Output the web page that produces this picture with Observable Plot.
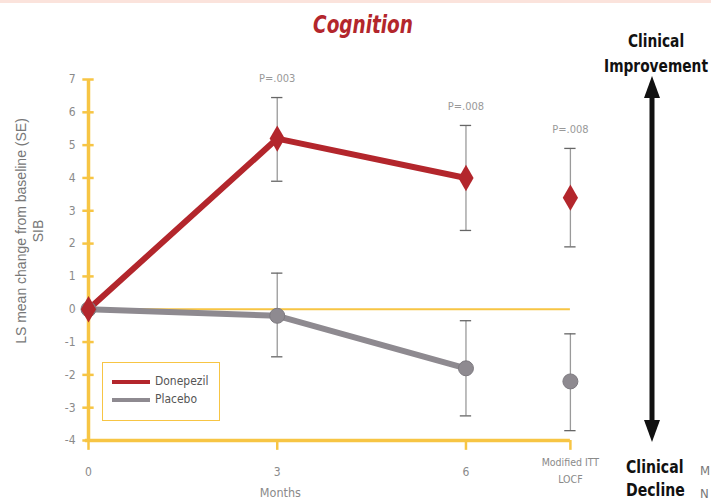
<!DOCTYPE html>
<html>
<head>
<meta charset="utf-8">
<script src="https://cdn.jsdelivr.net/npm/d3@7"></script>
<script src="https://cdn.jsdelivr.net/npm/@observablehq/plot@0.6"></script>
<style>
  body { margin: 0; background: #fff; }
  #wrap { position: relative; width: 711px; height: 500px; overflow: hidden; font-family: "Liberation Sans Narrow", "DejaVu Sans Condensed", "Roboto", sans-serif; }
  #wrap svg.plot { position: absolute; left: 0; top: 0; }
  .abs { position: absolute; white-space: nowrap; }
</style>
</head>
<body>
<div id="wrap"></div>
<script>
// ---- data ----
const timepoints = [0, 3, 6, 7.66];           // x positions (ITT placed after month 6)
const tickLabels = ["0", "3", "6", "Modified ITT\nLOCF"];
const donepezilMean = [0, 5.2, 4.0, 3.4];
const donepezilLow  = [null, 3.9, 2.4, 1.9];
const donepezilHigh = [null, 6.45, 5.6, 4.9];
const placeboMean = [0, -0.2, -1.8, -2.2];
const placeboLow  = [null, -1.45, -3.25, -3.7];
const placeboHigh = [null, 1.1, -0.35, -0.75];
const pLabels = [null, "P=.003", "P=.008", "P=.008"];
const yTicks = [-4, -3, -2, -1, 0, 1, 2, 3, 4, 5, 6, 7];

const RED = "#b3262c", GRAY = "#8e8a90", ORANGE = "#f7c544", TXT = "#8a8a8a";

const rows = [];
timepoints.forEach((t, i) => {
  rows.push({series: "Donepezil", x: t, y: donepezilMean[i], lo: donepezilLow[i], hi: donepezilHigh[i], p: pLabels[i], line: i < 3});
  rows.push({series: "Placebo", x: t, y: placeboMean[i], lo: placeboLow[i], hi: placeboHigh[i], p: null, line: i < 3});
});
const don = rows.filter(d => d.series === "Donepezil");
const pla = rows.filter(d => d.series === "Placebo");
const errs = rows.filter(d => d.lo != null);
const capW = 0.09;
const ticksX = timepoints.map((t, i) => ({x: t, label: tickLabels[i]}));

const chart = Plot.plot({
  width: 711, height: 500,
  marginLeft: 88, marginRight: 126, marginTop: 79, marginBottom: 60,
  x: {domain: [0, 7.9], axis: null},
  y: {domain: [-4, 7], axis: null},
  style: {fontFamily: "'Liberation Sans Narrow','DejaVu Sans Condensed',sans-serif", background: "transparent"},
  marks: [
    Plot.ruleY([0], {x1: 0, x2: 7.66, stroke: ORANGE, strokeWidth: 2}),
    Plot.ruleX([0], {y1: -4, y2: 7, stroke: ORANGE, strokeWidth: 3.5}),
    Plot.ruleY(yTicks, {x1: -0.09, x2: 0.09, stroke: ORANGE, strokeWidth: 2.5}),
    Plot.text(yTicks, {x: 0, y: d => d, text: d => String(d), dx: -13, textAnchor: "end", fill: TXT, fontSize: 12}),
    Plot.ruleY([-4], {x1: -0.05, x2: 7.66, stroke: ORANGE, strokeWidth: 3.5}),
    Plot.ruleX(ticksX, {x: "x", y1: -4, y2: -4.3, stroke: ORANGE, strokeWidth: 2.5}),
    Plot.text(ticksX, {x: "x", y: -4, text: "label", dy: 29, fill: TXT, fontSize: d => d.x > 7 ? 10.5 : 12, lineHeight: 1.6}),
    Plot.text(["Months"], {x: 3.05, y: -4, text: d => d, dy: 52, fill: TXT, fontSize: 12.5}),
    Plot.ruleX(errs, {x: "x", y1: "lo", y2: "hi", stroke: "#9a9a9a", strokeWidth: 1.3}),
    Plot.ruleY(errs, {y: "hi", x1: d => d.x - capW, x2: d => d.x + capW, stroke: "#666", strokeWidth: 1.3}),
    Plot.ruleY(errs, {y: "lo", x1: d => d.x - capW, x2: d => d.x + capW, stroke: "#666", strokeWidth: 1.3}),
    Plot.line(pla.filter(d => d.line), {x: "x", y: "y", stroke: GRAY, strokeWidth: 6}),
    Plot.line(don.filter(d => d.line), {x: "x", y: "y", stroke: RED, strokeWidth: 6}),
    Plot.dot(pla, {x: "x", y: "y", r: 7.5, fill: GRAY, stroke: "#7d7a80", strokeWidth: 1}),
    Plot.dot(don, {x: "x", y: "y", r: 8, symbol: "diamond", fill: RED}),
    Plot.text(don.filter(d => d.p), {x: "x", y: "hi", text: "p", dy: -19, fill: "#999", fontSize: 11})
  ]
});
chart.classList.add("plot");
const wrap = document.getElementById("wrap");
wrap.appendChild(chart);

wrap.insertAdjacentHTML("beforeend", `
<div class="abs" style="left:0;top:0;width:711px;height:3px;background:#fbe3dc"></div>
<div class="abs" style="left:290px;top:10px;width:146px;text-align:center;font-family:'Liberation Sans Narrow','DejaVu Sans Condensed',sans-serif;font-weight:bold;font-style:italic;font-size:25px;color:${RED};transform:scaleX(0.82)">Cognition</div>
<div class="abs" style="left:-120px;top:214px;width:300px;text-align:center;transform:rotate(-90deg);color:#777;font-size:14px;line-height:17px;font-family:'Liberation Sans','DejaVu Sans',sans-serif">LS mean change from baseline (SE)<br>SIB</div>
<div class="abs" style="left:596px;top:29px;width:120px;text-align:center;font-weight:bold;font-size:17px;line-height:25px;color:#111;transform:scaleX(0.9)">Clinical<br>Improvement</div>
<div class="abs" style="left:626px;top:456px;text-align:left;font-weight:bold;font-size:17px;line-height:23px;color:#111;transform:scaleX(0.92);transform-origin:left">Clinical<br>Decline</div>
<div class="abs" style="left:700px;top:459px;font-size:13px;line-height:23px;color:#777">M<br>N</div>
<div class="abs" style="left:102px;top:362px;width:118px;height:59px;border:1.5px solid ${ORANGE};box-sizing:border-box"></div>
<div class="abs" style="left:112px;top:380px;width:38px;height:4px;background:${RED}"></div>
<div class="abs" style="left:112px;top:398px;width:38px;height:4px;background:${GRAY}"></div>
<div class="abs" style="left:155px;top:372px;font-size:13px;line-height:18px;color:#555;transform:scaleX(0.92);transform-origin:left">Donepezil<br>Placebo</div>
<svg class="abs" style="left:640px;top:76px" width="24" height="366">
  <line x1="12" y1="18" x2="12" y2="348" stroke="#111" stroke-width="5"/>
  <polygon points="12,0 4,22 20,22" fill="#111"/>
  <polygon points="12,366 4,344 20,344" fill="#111"/>
</svg>
`);
</script>
</body>
</html>
